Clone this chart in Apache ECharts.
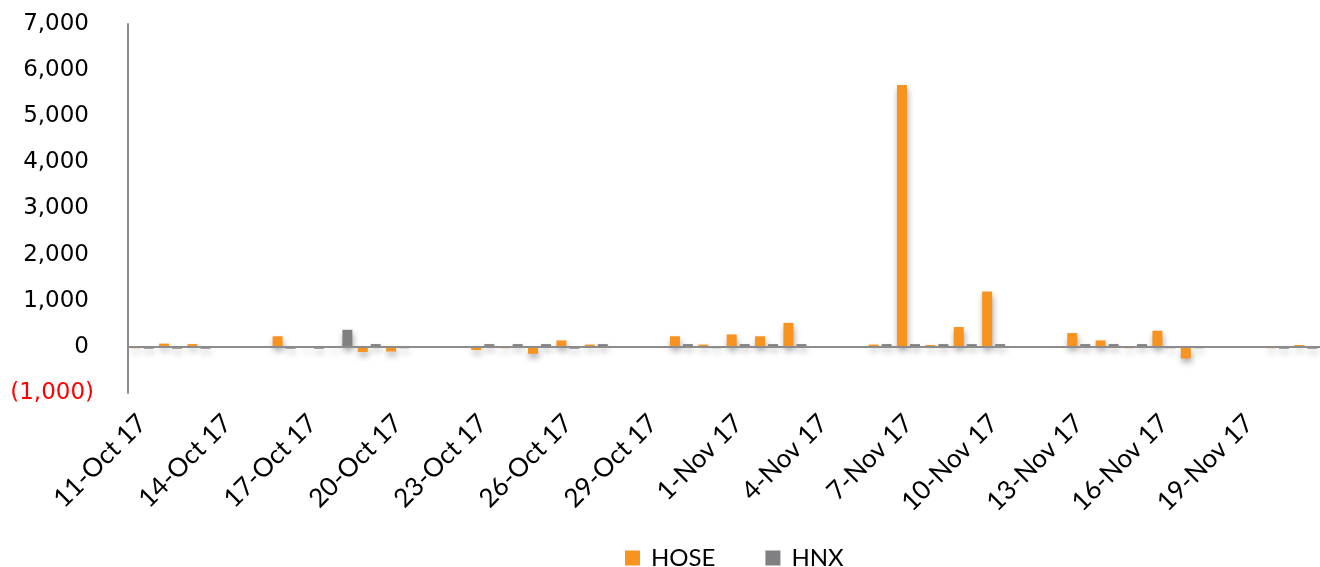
<!DOCTYPE html>
<html>
<head>
<meta charset="utf-8">
<script src="https://cdn.jsdelivr.net/npm/echarts@6/dist/echarts.min.js"></script>
<style>
  html, body { margin: 0; padding: 0; background: #fff; }
  #chart { width: 1320px; height: 567px; }
</style>
</head>
<body>
<div id="chart"></div>
<script>
// trading days, 11-Oct-17 .. 21-Nov-17 (weekends left empty)
const dates = [
    '11-Oct 17', '12-Oct 17', '13-Oct 17', '14-Oct 17', '15-Oct 17', '16-Oct 17', '17-Oct 17',
    '18-Oct 17', '19-Oct 17', '20-Oct 17', '21-Oct 17', '22-Oct 17', '23-Oct 17', '24-Oct 17',
    '25-Oct 17', '26-Oct 17', '27-Oct 17', '28-Oct 17', '29-Oct 17', '30-Oct 17', '31-Oct 17',
    '1-Nov 17', '2-Nov 17', '3-Nov 17', '4-Nov 17', '5-Nov 17', '6-Nov 17', '7-Nov 17',
    '8-Nov 17', '9-Nov 17', '10-Nov 17', '11-Nov 17', '12-Nov 17', '13-Nov 17', '14-Nov 17',
    '15-Nov 17', '16-Nov 17', '17-Nov 17', '18-Nov 17', '19-Nov 17', '20-Nov 17', '21-Nov 17',
];
const hose = [
    -30, 70, 60, null, null, 230, -20,
    -20, -110, -100, null, null, -70, -30,
    -150, 140, 50, null, null, 230, 50,
    270, 230, 520, null, null, 50, 5680,
    40, 430, 1200, null, null, 300, 140,
    -30, 350, -250, null, null, -30, 40,
];
const hnx = [
    -40, -40, -40, null, null, -40, -40,
    370, 60, -30, null, null, 60, 60,
    60, -40, 60, null, null, 60, -30,
    60, 60, 60, null, null, 60, 60,
    60, 60, 60, null, null, 60, 60,
    60, -30, -30, null, null, -40, -40,
];
const yTicks = { min: -1000, max: 7000, step: 1000 };

const FONT = 'Lato';
const Y_FONT = 'DejaVu Sans';
const myChart = echarts.init(document.getElementById('chart'));

const barShadow = {
    shadowColor: 'rgba(0, 0, 0, 0.35)',
    shadowBlur: 6,
    shadowOffsetX: 1,
    shadowOffsetY: 4,
};

const option = {
    animation: false,
    textStyle: { fontFamily: FONT },
    grid: {
        left: 128,
        right: 0,
        top: 24,
        bottom: 174,
        containLabel: false,
    },
    legend: {
        top: 541,
        left: 620,
        itemWidth: 15,
        itemHeight: 15,
        itemGap: 50,
        icon: 'rect',
        textStyle: {
            fontSize: 24,
            color: '#000',
            fontFamily: FONT,
            padding: [0, 0, 0, 6],
        },
        data: ['HOSE', 'HNX'],
    },
    xAxis: {
        type: 'category',
        data: dates,
        axisLine: { show: false, onZero: false },
        axisTick: { show: false },
        axisLabel: {
            interval: 2,
            rotate: 45,
            margin: 26,
            fontSize: 26,
            color: '#000',
            fontFamily: FONT,
        },
    },
    yAxis: {
        type: 'value',
        min: yTicks.min,
        max: yTicks.max,
        interval: yTicks.step,
        splitLine: { show: false },
        axisTick: { show: false },
        axisLine: {
            show: true,
            lineStyle: { color: '#8c8c8c', width: 2 },
        },
        axisLabel: {
            margin: 34,
            fontSize: 23,
            color: '#000',
            fontFamily: Y_FONT,
            // positive numbers leave room for the closing bracket, like Excel
            formatter: (v) => {
                if (v < 0) {
                    return '{neg|(' + Math.abs(v).toLocaleString('en-US') + ')}';
                }
                return '{pos|' + v.toLocaleString('en-US') + '}';
            },
            rich: {
                neg: { color: '#ff0000', fontSize: 23, fontFamily: Y_FONT },
                pos: { color: '#000', fontSize: 23, fontFamily: Y_FONT, padding: [0, 5, 0, 0] },
            },
        },
    },
    series: [
        {
            name: 'HOSE',
            type: 'bar',
            data: hose,
            barWidth: 10,
            barGap: '30%',
            itemStyle: Object.assign({ color: '#f7931e' }, barShadow),
            markLine: {
                silent: true,
                symbol: 'none',
                label: { show: false },
                lineStyle: { color: '#8c8c8c', width: 2, type: 'solid' },
                data: [{ yAxis: 0 }],
            },
        },
        {
            name: 'HNX',
            type: 'bar',
            data: hnx,
            barWidth: 10,
            itemStyle: Object.assign({ color: '#808083' }, barShadow),
        },
    ],
};
myChart.setOption(option);
</script>
</body>
</html>
